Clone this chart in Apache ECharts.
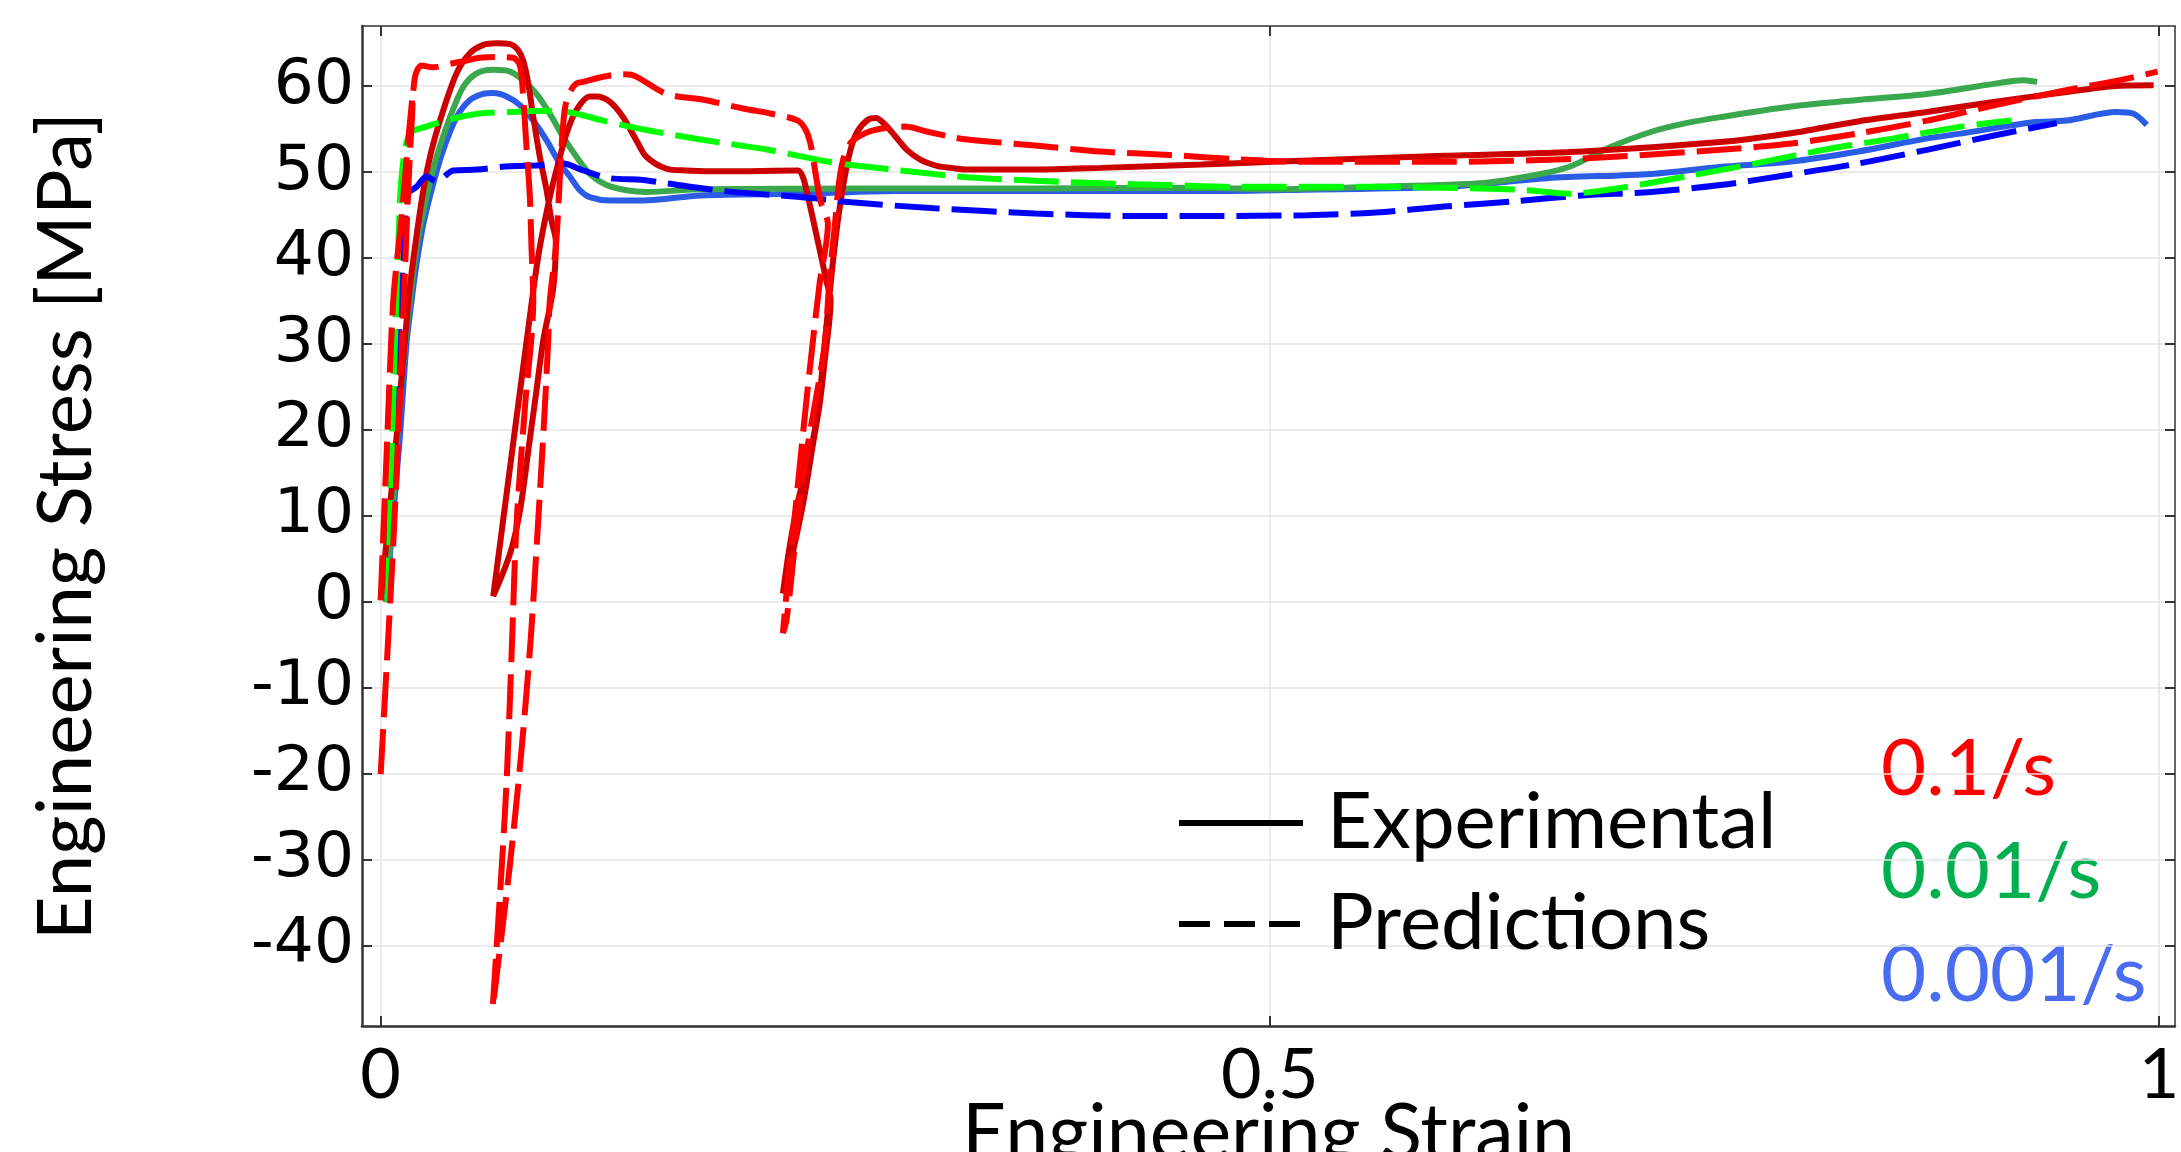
<!DOCTYPE html>
<html>
<head>
<meta charset="utf-8">
<script src="https://cdn.jsdelivr.net/npm/echarts@6.0.0/dist/echarts.min.js"></script>
<style>
  html, body { margin: 0; padding: 0; background: #fff; }
  #chart { width: 2181px; height: 1152px; }
</style>
</head>
<body>
<div id="chart"></div>
<script>
// tick values
var xTicks = [0, 0.5, 1];
var yTicks = [-40, -30, -20, -10, 0, 10, 20, 30, 40, 50, 60];

// experimental, 0.1/s (with two unload / reload loops)
var exp01 = [
  [0.000, 0.3], [0.008, 17], [0.0156, 35.1], [0.0193, 41.3], [0.024, 47.9], [0.0287, 52.6],
  [0.0352, 57.2], [0.0427, 61.5], [0.050, 63.8], [0.0577, 64.8], [0.065, 65.0], [0.0727, 64.9],
  [0.0773, 64.2], [0.0801, 63.0], [0.083, 60.3], [0.0858, 56.4], [0.0895, 51.8], [0.0933, 47.9],
  [0.096, 44.4], [0.0985, 42.0], [0.097, 36.5], [0.0914, 30.4], [0.0876, 24.6], [0.083, 17.6],
  [0.0783, 10.6], [0.0727, 5.6], [0.0633, 0.7], [0.0858, 36.2], [0.0895, 41.3], [0.0951, 47.1],
  [0.0998, 51.0], [0.1045, 54.5], [0.110, 57.2], [0.1176, 58.8], [0.1213, 58.8], [0.1288, 58.2],
  [0.1363, 56.4], [0.1438, 53.7], [0.1494, 51.8], [0.1608, 50.4], [0.1716, 50.2], [0.193, 50.1],
  [0.2346, 50.2], [0.2375, 49.4], [0.2403, 47.1], [0.2441, 43.6], [0.2478, 40.1], [0.2506, 37.4],
  [0.2530, 35.1], [0.2497, 28.1], [0.2469, 23.1], [0.2431, 18.4], [0.2380, 12.0], [0.2320, 6.0],
  [0.2262, 1.0], [0.2300, 6.5], [0.2350, 12.0], [0.2412, 17.0], [0.2459, 22.3], [0.2497, 30.0],
  [0.2534, 37.8], [0.2571, 44.4], [0.2609, 49.4], [0.2646, 52.9], [0.2683, 54.8], [0.2740, 56.1],
  [0.2786, 56.3], [0.2833, 55.6], [0.2889, 54.3], [0.2964, 52.5], [0.3039, 51.4], [0.3133, 50.7],
  [0.3208, 50.5], [0.3302, 50.3], [0.368, 50.3], [0.405, 50.5], [0.4613, 50.9], [0.5016, 51.2],
  [0.598, 51.9], [0.6758, 52.4], [0.7533, 53.5], [0.792, 54.5], [0.8307, 55.9], [0.8695, 57.0],
  [0.908, 58.2], [0.947, 59.3], [0.974, 60.0], [0.997, 60.1]
];

// predictions, 0.1/s
var pred01 = [
  [0, -20], [0.0035, -7], [0.0071, 6.9], [0.010, 20], [0.013, 35], [0.0155, 48], [0.0175, 56],
  [0.0193, 61.1], [0.023, 62.4], [0.0296, 62.2], [0.039, 62.6], [0.0464, 62.9], [0.0558, 63.3],
  [0.0652, 63.4], [0.0745, 63.3], [0.0783, 62.4], [0.0801, 58.8], [0.082, 52.9], [0.0839, 47.1],
  [0.0848, 41.3], [0.0858, 35.1], [0.0811, 22.6], [0.0764, 9.1], [0.0735, -6.8], [0.0710, -20],
  [0.0684, -29.7], [0.063, -47.1], [0.064, -45.5], [0.0727, -30.5], [0.0792, -17.2], [0.0845, -3.9],
  [0.0888, 10.2], [0.0923, 22.6], [0.0942, 30.4], [0.0951, 35.0], [0.0985, 41.3], [0.1002, 47.1],
  [0.1017, 52.9], [0.1036, 57.4], [0.1064, 59.3], [0.110, 60.3], [0.1139, 60.5], [0.125, 61.1],
  [0.1363, 61.4], [0.1415, 61.3], [0.1608, 59.1], [0.1823, 58.4], [0.2038, 57.4], [0.2197, 56.8],
  [0.2346, 56.0], [0.2393, 54.8], [0.2421, 52.9], [0.2449, 49.4], [0.2478, 46.3], [0.2515, 44.0],
  [0.2468, 37.0], [0.2412, 26.9], [0.2365, 17.6], [0.2328, 9.9], [0.2290, 2.7], [0.2262, -3.6],
  [0.2281, -2.2], [0.2309, 2.7], [0.2346, 9.9], [0.2400, 18], [0.2459, 25], [0.2497, 30.0],
  [0.2525, 37.8], [0.2553, 43.6], [0.2581, 49.4], [0.2609, 52.1], [0.2646, 53.5], [0.2702, 54.3],
  [0.2758, 54.8], [0.2852, 55.2], [0.2946, 55.3], [0.3077, 54.7], [0.3208, 54.1], [0.330, 53.8],
  [0.368, 53.1], [0.405, 52.4], [0.4435, 52.0], [0.4822, 51.5], [0.521, 51.2], [0.598, 51.2],
  [0.6758, 51.6], [0.7533, 52.6], [0.792, 53.3], [0.8307, 54.5], [0.8695, 56.0], [0.908, 57.8],
  [0.947, 59.5], [0.978, 60.7], [0.9992, 61.7]
];
// second red dashed branch near the origin
var pred01Start = [
  [0, 0.2], [0.0035, 18], [0.0071, 35.1], [0.0118, 44.8], [0.0155, 53.7], [0.018, 59]
];

// experimental, 0.01/s
var exp001 = [
  [0.003, 0], [0.007, 12], [0.011, 24], [0.0145, 31.5], [0.0165, 35.1], [0.0202, 41.3],
  [0.0258, 47.1], [0.0315, 51.8], [0.039, 56.4], [0.0464, 59.9], [0.054, 61.5], [0.0633, 61.9],
  [0.0727, 61.7], [0.0801, 60.7], [0.0876, 59.1], [0.0951, 56.8], [0.1026, 54.1], [0.1101, 51.8],
  [0.1176, 49.8], [0.127, 48.5], [0.1382, 47.9], [0.1494, 47.7], [0.180, 48.0], [0.274, 48.1],
  [0.368, 48.1], [0.4613, 48.2], [0.5016, 48.0], [0.5596, 48.3], [0.6177, 48.7], [0.6449, 49.5],
  [0.668, 50.6], [0.6913, 52.9], [0.7146, 54.7], [0.734, 55.7], [0.7533, 56.4], [0.792, 57.6],
  [0.8307, 58.4], [0.8695, 59.1], [0.908, 60.3], [0.9237, 60.7], [0.9315, 60.5]
];

// predictions, 0.01/s
var pred001 = [
  [0.004, 0], [0.006, 15], [0.008, 30], [0.010, 42], [0.012, 50], [0.0165, 54.5], [0.0258, 55.3],
  [0.0352, 55.9], [0.0464, 56.5], [0.0596, 56.9], [0.0727, 57.0], [0.0858, 57.1], [0.0989, 57.1],
  [0.110, 56.8], [0.125, 56.0], [0.14, 55.3], [0.1494, 54.9], [0.180, 53.8], [0.2178, 52.6],
  [0.2553, 51.1], [0.2928, 50.2], [0.3302, 49.4], [0.368, 49.0], [0.405, 48.7], [0.4428, 48.5],
  [0.4822, 48.3], [0.5596, 48.3], [0.6177, 48.1], [0.6449, 47.9], [0.668, 47.5], [0.6952, 48.1],
  [0.734, 49.5], [0.7727, 51.0], [0.8115, 52.6], [0.85, 53.9], [0.8888, 55.3], [0.917, 56.0]
];

// experimental, 0.001/s
var exp0001 = [
  [0.003, 0], [0.007, 10], [0.0109, 19.5], [0.0145, 30], [0.0174, 35.1], [0.0202, 39.4],
  [0.024, 44.0], [0.0296, 48.7], [0.0352, 52.6], [0.0427, 56.4], [0.0502, 58.4], [0.0577, 59.1],
  [0.0633, 59.2], [0.0708, 58.8], [0.0783, 57.8], [0.0858, 56.0], [0.0933, 53.7], [0.1007, 51.0],
  [0.1064, 49.5], [0.112, 47.9], [0.1176, 47.1], [0.1288, 46.7], [0.1476, 46.7], [0.180, 47.3],
  [0.2365, 47.5], [0.2928, 47.8], [0.368, 47.8], [0.4613, 47.8], [0.5016, 47.9], [0.598, 48.3],
  [0.656, 49.3], [0.7146, 49.8], [0.753, 50.6], [0.792, 51.2], [0.831, 52.4], [0.869, 53.9],
  [0.892, 54.6], [0.929, 55.8], [0.948, 56.0], [0.976, 57.0], [0.9857, 56.8], [0.9931, 55.5]
];

// predictions, 0.001/s
var pred0001 = [
  [0.004, 0], [0.008, 20], [0.012, 38], [0.0155, 47.5], [0.0202, 48.3], [0.0258, 49.5],
  [0.0315, 48.9], [0.0408, 50.2], [0.054, 50.3], [0.0727, 50.7], [0.0914, 50.8], [0.1026, 51.0],
  [0.1139, 50.2], [0.1288, 49.3], [0.1476, 49.1], [0.1608, 48.7], [0.193, 47.8], [0.236, 47.1],
  [0.2646, 46.5], [0.3114, 45.8], [0.368, 45.2], [0.4241, 44.9], [0.4628, 44.9], [0.521, 45.0],
  [0.5596, 45.3], [0.598, 46.0], [0.637, 46.6], [0.6758, 47.3], [0.7146, 47.7], [0.7533, 48.5],
  [0.792, 49.7], [0.8307, 51.0], [0.8695, 52.6], [0.908, 54.3], [0.9425, 55.7]
];

var rateLabels = ["0.1/s", "0.01/s", "0.001/s"];
var rateColors = ["#ff0000", "#00b050", "#4a6cf0"];

(function () {
  var myChart = echarts.init(document.getElementById("chart"));

  function expLine(name, data, color) {
    return {
      name: name, type: "line", data: data, symbol: "none", smooth: 0.3,
      lineStyle: { color: color, width: 6 }, z: 2
    };
  }
  function predLine(name, data, color) {
    return {
      name: name, type: "line", data: data, symbol: "none", smooth: 0.3,
      lineStyle: { color: color, width: 6, type: [45, 12] }, z: 3
    };
  }

  var option = {
    animation: false,
    backgroundColor: "#fff",
    grid: { left: 362, right: 6, top: 26, bottom: 126, containLabel: false, outerBoundsMode: "none" },
    xAxis: [
      {
        type: "value", min: -0.0105, max: 1.009,
        axisLine: { onZero: false, lineStyle: { color: "#333", width: 2.5 } },
        axisTick: { inside: true, length: 10, customValues: xTicks, lineStyle: { color: "#333", width: 2 } },
        axisLabel: { customValues: xTicks, color: "#000", fontFamily: "Lato", fontSize: 70, margin: 14 },
        splitLine: { show: true, lineStyle: { color: "#e4e4e4", width: 1.5 } },
        name: "Engineering Strain", nameLocation: "middle", nameGap: 70, nameMoveOverlap: false,
        nameTextStyle: { color: "#000", fontFamily: "Lato", fontSize: 77 }
      },
      {
        type: "value", position: "top", min: -0.0105, max: 1.009,
        axisLine: { show: true, onZero: false, lineStyle: { color: "#333", width: 1.5 } },
        axisTick: { show: true, inside: true, length: 10, customValues: xTicks, lineStyle: { color: "#333", width: 2 } },
        axisLabel: { show: false },
        splitLine: { show: false }
      }
    ],
    yAxis: [
      {
        type: "value", min: -49.3, max: 67,
        axisLine: { show: true, onZero: false, lineStyle: { color: "#333", width: 2.5 } },
        axisTick: { show: true, inside: true, length: 10, customValues: yTicks, lineStyle: { color: "#333", width: 2 } },
        axisLabel: { customValues: yTicks, color: "#000", fontFamily: "DejaVu Sans", fontSize: 63, margin: 8 },
        splitLine: { show: true, lineStyle: { color: "#e4e4e4", width: 1.5 } },
        name: "Engineering Stress [MPa]", nameLocation: "middle", nameGap: 258, nameRotate: 90,
        nameTextStyle: { color: "#000", fontFamily: "Lato", fontSize: 76 }
      },
      {
        type: "value", position: "right", min: -49.3, max: 67,
        axisLine: { show: true, onZero: false, lineStyle: { color: "#333", width: 1.5 } },
        axisTick: { show: true, inside: true, length: 10, customValues: yTicks, lineStyle: { color: "#333", width: 2 } },
        axisLabel: { show: false },
        splitLine: { show: false }
      }
    ],
    legend: [
      {
        data: ["Experimental"], left: 1171, top: 779, orient: "vertical",
        itemWidth: 124, itemHeight: 20,
        itemStyle: { opacity: 0 },
        lineStyle: { width: 6, color: "#000" },
        textStyle: { color: "#000", fontFamily: "Lato", fontSize: 78, padding: [0, 0, 0, 19] }
      },
      {
        data: ["Predictions"], left: 1171, top: 880, orient: "vertical",
        itemWidth: 124, itemHeight: 20,
        itemStyle: { opacity: 0 },
        lineStyle: { width: 6, color: "#000", type: [31, 14] },
        textStyle: { color: "#000", fontFamily: "Lato", fontSize: 78, padding: [0, 0, 0, 19] }
      }
    ],
    graphic: rateLabels.map(function (t, i) {
      return {
        type: "text", left: 1881, top: [731, 834, 937][i],
        style: { text: t, fill: rateColors[i], font: "78px Lato" }
      };
    }),
    series: [
      expLine("exp 0.001/s", exp0001, "#2b5ce6"),
      expLine("exp 0.01/s", exp001, "#3aa84c"),
      expLine("exp 0.1/s", exp01, "#cc0000"),
      predLine("pred 0.001/s", pred0001, "#0000ff"),
      predLine("pred 0.01/s", pred001, "#00ff00"),
      predLine("pred 0.1/s", pred01, "#ff0000"),
      predLine("pred 0.1/s start", pred01Start, "#ff0000"),
      {
        name: "Experimental", type: "line", data: [], symbol: "none",
        lineStyle: { color: "#000", width: 6 }, itemStyle: { color: "#000" }
      },
      {
        name: "Predictions", type: "line", data: [], symbol: "none",
        lineStyle: { color: "#000", width: 6, type: [31, 14] }, itemStyle: { color: "#000" }
      }
    ]
  };

  myChart.setOption(option);
  window.addEventListener("resize", function () {
    myChart.resize();
  });
})();
</script>
</body>
</html>
